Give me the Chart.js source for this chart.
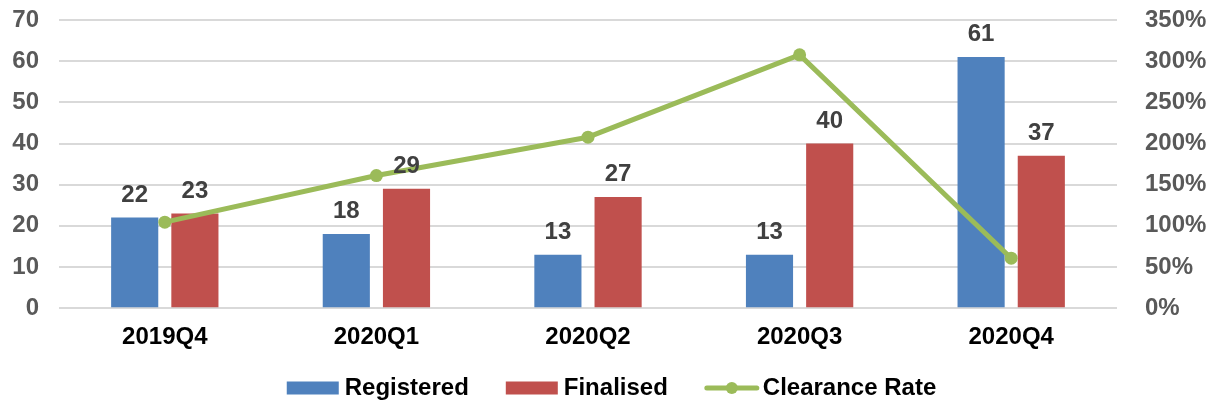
<!DOCTYPE html>
<html>
<head>
<meta charset="utf-8">
<script src="https://cdn.jsdelivr.net/npm/chart.js@4.4.1/dist/chart.umd.min.js"></script>
<style>
html,body{margin:0;padding:0;background:#fff;}
#wrap{width:1208px;height:403px;}
</style>
</head>
<body>
<div id="wrap"><canvas id="c" width="1208" height="403"></canvas></div>
<script>
const categories = ['2019Q4', '2020Q1', '2020Q2', '2020Q3', '2020Q4'];
const registered = [22, 18, 13, 13, 61];
const finalised = [23, 29, 27, 40, 37];
const clearanceRate = [104.5, 161.1, 207.7, 307.7, 60.7];
const leftTicks = [0, 10, 20, 30, 40, 50, 60, 70];
const rightTicks = [0, 50, 100, 150, 200, 250, 300, 350];

const FONT = "'Liberation Sans', Arial, sans-serif";
const BLUE = '#4F81BD', RED = '#C0504D', GREEN = '#9BBB59';
const MARK_OFF = 15;

const barLabels = {
  id: 'barLabels',
  afterDatasetsDraw(chart) {
    const ctx = chart.ctx;
    ctx.save();
    ctx.font = "bold 24px " + FONT;
    ctx.fillStyle = '#404040';
    ctx.textAlign = 'center';
    ctx.textBaseline = 'alphabetic';
    [0, 1].forEach(di => {
      const meta = chart.getDatasetMeta(di);
      meta.data.forEach((bar, i) => {
        ctx.fillText(String(chart.data.datasets[di].data[i]), bar.x, bar.y - 16);
      });
    });
    ctx.restore();
  }
};

const legendMarkers = {
  id: 'legendMarkers',
  afterDraw(chart) {
    const lg = chart.legend;
    if (!lg || !lg.legendHitBoxes) return;
    const ctx = chart.ctx;
    ctx.save();
    lg.legendHitBoxes.forEach((hb, i) => {
      const item = lg.legendItems[i];
      const cy = hb.top + hb.height / 2;
      const x0 = hb.left + MARK_OFF, w = 52;
      if (item.datasetIndex === 2) {
        ctx.strokeStyle = GREEN;
        ctx.lineWidth = 5;
        ctx.lineCap = 'round';
        ctx.beginPath();
        ctx.moveTo(x0 + 2, cy);
        ctx.lineTo(x0 + w, cy);
        ctx.stroke();
        ctx.fillStyle = GREEN;
        ctx.beginPath();
        ctx.arc(x0 + w / 2 + 1, cy, 6, 0, Math.PI * 2);
        ctx.fill();
      } else {
        ctx.fillStyle = item.datasetIndex === 0 ? BLUE : RED;
        ctx.fillRect(x0, cy - 6.5, w, 13);
      }
    });
    ctx.restore();
  }
};

new Chart(document.getElementById('c'), {
  data: {
    labels: categories,
    datasets: [
      { type: 'bar', label: 'Registered', data: registered, backgroundColor: BLUE, yAxisID: 'y', order: 1,
        categoryPercentage: 0.569, barPercentage: 0.783 },
      { type: 'bar', label: 'Finalised', data: finalised, backgroundColor: RED, yAxisID: 'y', order: 1,
        categoryPercentage: 0.569, barPercentage: 0.783 },
      { type: 'line', label: 'Clearance Rate', data: clearanceRate, borderColor: GREEN, backgroundColor: GREEN,
        borderWidth: 5, pointRadius: 6.5, pointBackgroundColor: GREEN, pointBorderWidth: 0,
        yAxisID: 'y1', order: 0, tension: 0, borderCapStyle: 'round', borderJoinStyle: 'round' }
    ]
  },
  options: {
    responsive: false,
    animation: false,
    events: [],
    layout: { padding: { top: 0, left: 0, right: 0, bottom: -7 } },
    plugins: {
      tooltip: { enabled: false },
      legend: {
        position: 'bottom',
        labels: {
          font: { family: FONT, size: 24, weight: 'bold' },
          color: '#000',
          boxWidth: 46 + MARK_OFF,
          boxHeight: 13,
          padding: 37 - MARK_OFF,
          sort: (a, b) => a.datasetIndex - b.datasetIndex,
          generateLabels(chart) {
            return chart.data.datasets.map((ds, i) => ({
              text: ds.label, datasetIndex: i,
              fillStyle: 'rgba(0,0,0,0)', strokeStyle: 'rgba(0,0,0,0)', lineWidth: 0,
              hidden: false, fontColor: '#000'
            }));
          }
        }
      }
    },
    scales: {
      x: {
        afterFit(axis) { axis.height -= 5; },
        grid: { display: false },
        border: { display: false },
        ticks: { font: { family: FONT, size: 24, weight: 'bold' }, color: '#000', padding: 7 }
      },
      y: {
        position: 'left',
        min: 0, max: 70,
        afterBuildTicks(axis) { axis.ticks = leftTicks.map(v => ({ value: v })); },
        afterFit(axis) { axis.width = 59; },
        grid: { color: '#D9D9D9', lineWidth: 2, drawTicks: false },
        border: { display: false },
        ticks: { font: { family: FONT, size: 24, weight: 'bold', lineHeight: 0 }, color: '#595959', padding: 20 }
      },
      y1: {
        position: 'right',
        min: 0, max: 350,
        afterBuildTicks(axis) { axis.ticks = rightTicks.map(v => ({ value: v })); },
        afterFit(axis) { axis.width = 91; },
        grid: { display: false },
        border: { display: false },
        ticks: { font: { family: FONT, size: 24, weight: 'bold', lineHeight: 0 }, color: '#595959', padding: 20,
          callback: v => v + '%' }
      }
    }
  },
  plugins: [barLabels, legendMarkers]
});
</script>
</body>
</html>
